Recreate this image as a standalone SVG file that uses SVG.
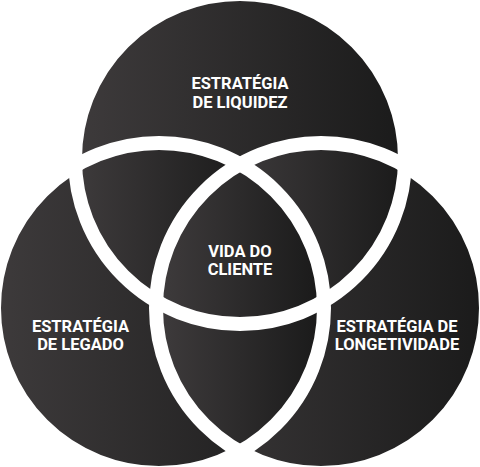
<svg xmlns="http://www.w3.org/2000/svg" width="480" height="467" viewBox="0 0 480 467">
<style>
.lbl{font-family:Roboto,"Liberation Sans",sans-serif;font-weight:700;font-size:16.5px;fill:#ffffff;text-anchor:middle}
.ring{fill:none;stroke:#ffffff;stroke-width:14}
</style>
<defs>
<linearGradient id="gA" gradientUnits="userSpaceOnUse" x1="82" y1="0" x2="398" y2="0"><stop offset="0" stop-color="#3d3a3b"/><stop offset="1" stop-color="#1b1b1b"/></linearGradient>
<linearGradient id="gB" gradientUnits="userSpaceOnUse" x1="1" y1="0" x2="317" y2="0"><stop offset="0" stop-color="#3d3a3b"/><stop offset="1" stop-color="#1b1b1b"/></linearGradient>
<linearGradient id="gC" gradientUnits="userSpaceOnUse" x1="163" y1="0" x2="479" y2="0"><stop offset="0" stop-color="#3d3a3b"/><stop offset="1" stop-color="#1b1b1b"/></linearGradient>
<linearGradient id="gAB" gradientUnits="userSpaceOnUse" x1="80" y1="0" x2="245" y2="0"><stop offset="0" stop-color="#3d3a3b"/><stop offset="1" stop-color="#1b1b1b"/></linearGradient>
<linearGradient id="gAC" gradientUnits="userSpaceOnUse" x1="235" y1="0" x2="400" y2="0"><stop offset="0" stop-color="#3d3a3b"/><stop offset="1" stop-color="#1b1b1b"/></linearGradient>
<linearGradient id="gBC" gradientUnits="userSpaceOnUse" x1="163" y1="0" x2="317" y2="0"><stop offset="0" stop-color="#3d3a3b"/><stop offset="1" stop-color="#1b1b1b"/></linearGradient>
<linearGradient id="gABC" gradientUnits="userSpaceOnUse" x1="165" y1="0" x2="315" y2="0"><stop offset="0" stop-color="#3d3a3b"/><stop offset="1" stop-color="#1b1b1b"/></linearGradient>
<clipPath id="cA"><circle cx="240" cy="159" r="165"/></clipPath>
<clipPath id="cB"><circle cx="159" cy="308" r="165"/></clipPath>
</defs>
<g id="node-liquidez">
<circle cx="240" cy="159" r="165" fill="url(#gA)"/>
<text class="lbl" x="240" y="89">ESTRATÉGIA</text>
<text class="lbl" x="240" y="108">DE LIQUIDEZ</text>
</g>
<g id="node-legado">
<circle cx="159" cy="308" r="165" fill="url(#gB)"/>
<text class="lbl" x="80.5" y="332">ESTRATÉGIA</text>
<text class="lbl" x="80.5" y="350">DE LEGADO</text>
</g>
<g id="node-longetividade">
<circle cx="321" cy="308" r="165" fill="url(#gC)"/>
<text class="lbl" x="397" y="332">ESTRATÉGIA DE</text>
<text class="lbl" x="397" y="350">LONGETIVIDADE</text>
</g>
<g id="overlaps">
<circle cx="159" cy="308" r="165" fill="url(#gAB)" clip-path="url(#cA)"/>
<circle cx="321" cy="308" r="165" fill="url(#gAC)" clip-path="url(#cA)"/>
<g clip-path="url(#cB)"><circle cx="321" cy="308" r="165" fill="url(#gBC)"/></g>
</g>
<g id="node-vida-cliente">
<g clip-path="url(#cA)"><g clip-path="url(#cB)"><circle cx="321" cy="308" r="165" fill="url(#gABC)"/></g></g>
<text class="lbl" x="240" y="257">VIDA DO</text>
<text class="lbl" x="240" y="274.5">CLIENTE</text>
</g>
<g id="outlines">
<circle class="ring" cx="240" cy="159" r="165"/>
<circle class="ring" cx="159" cy="308" r="165"/>
<circle class="ring" cx="321" cy="308" r="165"/>
</g>
</svg>
